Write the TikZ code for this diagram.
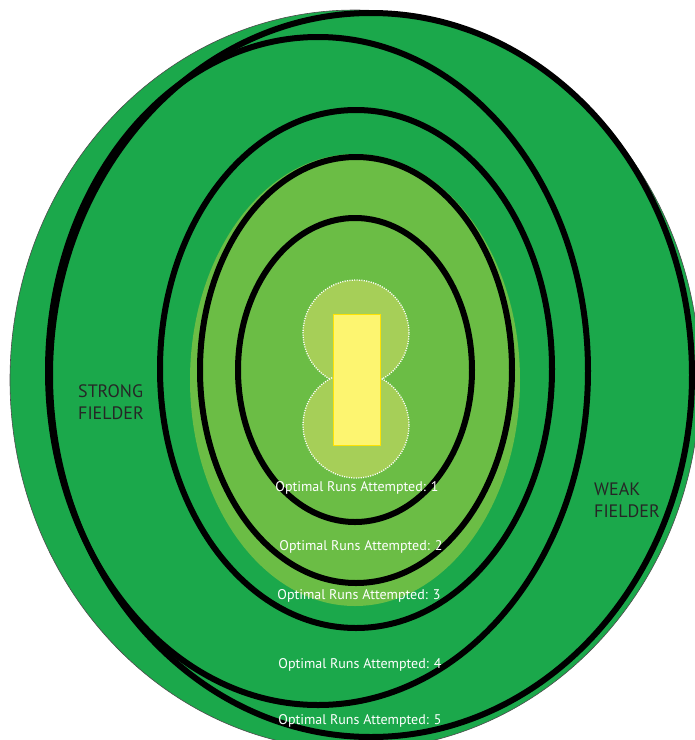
\documentclass[tikz,border=0pt]{standalone}
\usepackage{fontspec}
\setmainfont{PT Sans}
\usepackage{xcolor}
\definecolor{fieldgreen}{RGB}{27,168,75}
\definecolor{infield}{RGB}{107,189,69}
\definecolor{pitchgreen}{RGB}{166,207,88}
\definecolor{pitchyellow}{RGB}{253,245,112}

\begin{document}
\begin{tikzpicture}[
  x=1pt,y=-1pt,
  field/.style={fill=fieldgreen,draw=black!70,line width=0.6pt},
  infieldpatch/.style={fill=infield},
  boundary/.style={draw=black,line width=6pt},
  crease/.style={fill=pitchgreen,draw=white,line width=1.3pt,
                 dash pattern=on 1.1pt off 1.3pt},
  strip/.style={fill=pitchyellow,draw=yellow!85!orange,line width=0.3pt},
  runs/.style={font=\fontsize{14}{16}\selectfont,text=white,inner sep=0pt},
  fielder/.style={font=\fontsize{18}{22}\selectfont,text=black!85,
                  align=left,inner sep=0pt,anchor=west}
]
\useasboundingbox (0,0) rectangle (695,740);
\clip (0,0) rectangle (695,740);

% ground
\path[field] (355,380) ellipse [x radius=345pt,y radius=370pt];
\path[infieldpatch] (355,380) ellipse [x radius=165pt,y radius=226pt];

% run boundaries, outermost first
\draw[boundary] (371,375) ellipse [x radius=321pt,y radius=362pt];
\draw[boundary] (318,371) ellipse [x radius=270pt,y radius=334pt];
\draw[boundary] (356,369) ellipse [x radius=196pt,y radius=259pt];
\draw[boundary] (356,370) ellipse [x radius=156pt,y radius=213pt];
\draw[boundary] (355,370) ellipse [x radius=117pt,y radius=152pt];

% pitch
\path[crease] (356,333) circle [radius=53pt];
\path[crease] (356,425) circle [radius=53pt];
\path[strip] (333,314) rectangle (380,445);

\node[runs] (runs1) at (357,488) {Optimal Runs Attempted: 1};
\node[runs] (runs2) at (361,547) {Optimal Runs Attempted: 2};
\node[runs] (runs3) at (359,596) {Optimal Runs Attempted: 3};
\node[runs] (runs4) at (360,665) {Optimal Runs Attempted: 4};
\node[runs] (runs5) at (360,721) {Optimal Runs Attempted: 5};

\node[fielder] (strong) at (78,402) {STRONG\\FIELDER};
\node[fielder] (weak) at (594,500) {WEAK\\FIELDER};
\end{tikzpicture}
\end{document}
